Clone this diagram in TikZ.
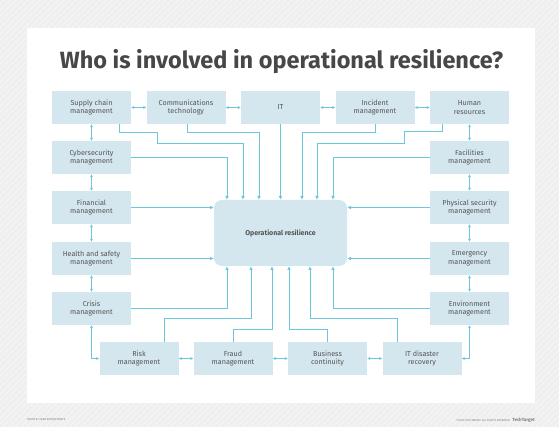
\documentclass[tikz,border=0pt]{standalone}
\usepackage{fontspec}
\setmainfont{Fira Sans}
\usetikzlibrary{arrows.meta,patterns.meta}
\definecolor{bggrey}{HTML}{EFEFEF}
\definecolor{bghatch}{HTML}{F7F7F7}
\definecolor{boxfill}{HTML}{D4E7EF}
\definecolor{linkblue}{HTML}{6CC6DC}
\definecolor{txtgrey}{HTML}{555555}
\definecolor{titlegrey}{HTML}{47474A}
\tikzset{
  box/.style={fill=boxfill, minimum width=79pt, minimum height=33pt, inner sep=1pt, align=center,
    text=txtgrey, font=\fontsize{7.2}{8.6}\selectfont},
  hub/.style={fill=boxfill, rounded corners=8pt, minimum width=133pt, minimum height=66pt,
    text=txtgrey, font=\fontsize{7}{8.5}\selectfont\bfseries},
  main/.style={draw=linkblue, line width=0.95pt, -{Latex[length=3.8pt,width=3.8pt]}},
  twoway/.style={draw=linkblue, line width=0.6pt, {Latex[length=3pt,width=3pt]}-{Latex[length=3pt,width=3pt]}},
  foot/.style={text=gray, font=\fontsize{2.8}{3}\selectfont, inner sep=0pt}
}
\begin{document}
\begin{tikzpicture}[x=1pt,y=-1pt]
\useasboundingbox (0,0) rectangle (559,427);
\fill[bggrey] (0,0) rectangle (559,427);
\fill[pattern={Lines[angle=45,distance=4pt,line width=1pt]}, pattern color=bghatch] (0,0) rectangle (559,427);
\fill[white] (27,28) rectangle (535,403);
\node[text=titlegrey, font=\fontsize{23.5}{27}\selectfont\bfseries] (title) at (281.5,61.5) {Who is involved in operational resilience?};
% top row
\node[box] (supply) at (91.5,107.5) {Supply chain\\management};
\node[box] (comm) at (186,107.5) {Communications\\technology};
\node[box] (it) at (280.5,107.5) {IT};
\node[box] (incident) at (375,107.5) {Incident\\management};
\node[box] (human) at (469.5,107.5) {Human\\resources};
% left column
\node[box] (cyber) at (91.5,157.5) {Cybersecurity\\management};
\node[box] (financial) at (91.5,207.5) {Financial\\management};
\node[box] (health) at (91.5,258.5) {Health and safety\\management};
\node[box] (crisis) at (91.5,308.5) {Crisis\\management};
% right column
\node[box] (facilities) at (469.5,157.5) {Facilities\\management};
\node[box] (physical) at (469.5,207.5) {Physical security\\management};
\node[box] (emergency) at (469.5,258.5) {Emergency\\management};
\node[box] (environment) at (469.5,308.5) {Environment\\management};
% bottom row
\node[box] (risk) at (139,358.5) {Risk\\management};
\node[box] (fraud) at (233,358.5) {Fraud\\management};
\node[box] (business) at (327.5,358.5) {Business\\continuity};
\node[box] (itdis) at (422,358.5) {IT disaster\\recovery};
% hub
\node[hub] (center) at (280.5,233) {Operational resilience};
% two-way links
\draw[twoway] (supply.east) -- (comm.west);
\draw[twoway] (comm.east) -- (it.west);
\draw[twoway] (it.east) -- (incident.west);
\draw[twoway] (incident.east) -- (human.west);
\draw[twoway] (supply.south) -- (cyber.north);
\draw[twoway] (cyber.south) -- (financial.north);
\draw[twoway] (financial.south) -- (health.north);
\draw[twoway] (health.south) -- (crisis.north);
\draw[twoway] (human.south) -- (facilities.north);
\draw[twoway] (facilities.south) -- (physical.north);
\draw[twoway] (physical.south) -- (emergency.north);
\draw[twoway] (emergency.south) -- (environment.north);
\draw[twoway] (crisis.south) |- (risk.west);
\draw[twoway] (risk.east) -- (fraud.west);
\draw[twoway] (fraud.east) -- (business.west);
\draw[twoway] (business.east) -- (itdis.west);
\draw[twoway] (itdis.east) -| (environment.south);
% links into hub, top
\draw[main] (supply.south -| 119,0) |- (157,132) |- (243,143) -- (center.north -| 243,0);
\draw[main] (comm.south -| 187,0) |- (259,132) -- (center.north -| 259,0);
\draw[main] (cyber.east) -| (center.north -| 227,0);
\draw[main] (it.south) -- (center.north);
\draw[main] (incident.south) |- (302,132) -- (center.north -| 302,0);
\draw[main] (human.south -| 442,0) |- (404,131) |- (317,143) -- (center.north -| 317,0);
\draw[main] (facilities.west) -| (center.north -| 333,0);
% sides
\draw[main] (financial.east) -- (financial.east -| center.west);
\draw[main] (health.east) -- (health.east -| center.west);
\draw[main] (physical.west) -- (physical.west -| center.east);
\draw[main] (emergency.west) -- (emergency.west -| center.east);
% bottom
\draw[main] (crisis.east) -| (center.south -| 227,0);
\draw[main] (environment.west) -| (center.south -| 333,0);
\draw[main] (risk.north -| 164,0) |- (251,318) -- (center.south -| 251,0);
\draw[main] (fraud.north) |- (272,329) -- (center.south -| 272,0);
\draw[main] (business.north) |- (289,329) -- (center.south -| 289,0);
\draw[main] (itdis.north -| 397,0) |- (310,318) -- (center.south -| 310,0);
% footer
\node[foot, anchor=west] (src) at (27,420) {SOURCE: LINDA ROSENCRANCE};
\node[foot, anchor=east] (copy) at (510,420) {\textcopyright 2022 TECHTARGET. ALL RIGHTS RESERVED};
\node[text=gray, font=\fontsize{4.5}{5}\selectfont\bfseries, inner sep=0pt, anchor=east] (logo) at (535,420) {TechTarget};
\end{tikzpicture}
\end{document}
